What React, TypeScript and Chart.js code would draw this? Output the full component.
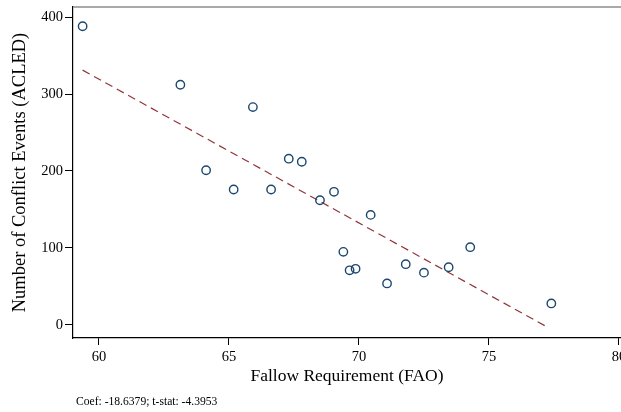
import React, { useEffect, useRef } from "react";
import { Chart, registerables } from "chart.js";

Chart.register(...registerables);

// Data
const fallowRequirement = [59.37, 63.13, 65.92, 64.12, 65.18, 66.62, 67.3, 67.8, 68.5, 69.04, 70.45, 69.4, 69.64, 69.87, 71.08, 71.8, 72.5, 73.45, 74.28, 77.4];
const conflictEvents = [388, 312, 283, 201, 176, 176, 216, 212, 162, 173, 143, 95, 71, 73, 54, 79, 68, 75, 101, 28];
const fitX = [59.37, 77.26];
const fitY = [331, -3];
const xTicks = [60, 65, 70, 75, 80];
const yTicks = [0, 100, 200, 300, 400];
const xTitle = "Fallow Requirement (FAO)";
const yTitle = "Number of Conflict Events (ACLED)";
const note = "Coef: -18.6379; t-stat: -4.3953";

const FONT = "'Liberation Serif', 'Times New Roman', serif";

const topBorder = {
  id: "topBorder",
  afterDraw(chart: any) {
    const { ctx, chartArea } = chart;
    ctx.save();
    ctx.strokeStyle = "#8c8c8c";
    ctx.lineWidth = 1.5;
    ctx.beginPath();
    ctx.moveTo(chartArea.left, chartArea.top);
    ctx.lineTo(chartArea.right, chartArea.top);
    ctx.stroke();
    ctx.restore();
  },
};

export default function App() {
  const canvasRef = useRef<HTMLCanvasElement | null>(null);

  useEffect(() => {
    if (!canvasRef.current) return;
    const points = fallowRequirement.map((x, i) => ({ x, y: conflictEvents[i] }));
    const fit = fitX.map((x, i) => ({ x, y: fitY[i] }));
    const chart = new Chart(canvasRef.current, {
      type: "scatter",
      data: {
        datasets: [
          {
            data: points,
            showLine: false,
            pointStyle: "circle",
            pointRadius: 4.2,
            pointBorderWidth: 1.4,
            pointBorderColor: "#1a476f",
            pointBackgroundColor: "rgba(0,0,0,0)",
          },
          {
            data: fit,
            showLine: true,
            pointRadius: 0,
            borderColor: "#90353b",
            borderWidth: 1.2,
            borderDash: [8, 5],
            fill: false,
          },
        ],
      },
      options: {
        animation: false,
        responsive: true,
        maintainAspectRatio: false,
        layout: { autoPadding: false, padding: { top: 7, left: 0, right: 0, bottom: 0 } },
        plugins: {
          legend: { display: false },
          tooltip: { enabled: false },
        },
        font: { family: FONT },
        scales: {
          x: {
            type: "linear",
            min: 59,
            max: 80.08,
            afterBuildTicks: (s: any) => {
              s.ticks = xTicks.map((v) => ({ value: v }));
            },
            afterFit: (s: any) => {
              s.height = 74;
              s.paddingLeft = 0;
              s.paddingRight = 0;
            },
            grid: { drawOnChartArea: false, drawTicks: true, tickLength: 7, color: "#000" },
            border: { display: true, color: "#000", width: 1.2 },
            ticks: { color: "#000", padding: 3, font: { family: FONT, size: 14.5 } },
            title: {
              display: true,
              text: xTitle,
              color: "#000",
              font: { family: FONT, size: 17.5 },
              padding: { top: 0, bottom: 25 },
            },
          },
          y: {
            type: "linear",
            min: -16.9,
            max: 413,
            afterBuildTicks: (s: any) => {
              s.ticks = yTicks.map((v) => ({ value: v }));
            },
            afterFit: (s: any) => {
              s.width = 73;
              s.paddingTop = 0;
              s.paddingBottom = 0;
            },
            grid: { drawOnChartArea: false, drawTicks: true, tickLength: 8, color: "#000" },
            border: { display: true, color: "#000", width: 1.2 },
            ticks: { color: "#000", padding: 2, font: { family: FONT, size: 14.5 } },
            title: {
              display: true,
              text: yTitle,
              color: "#000",
              font: { family: FONT, size: 18.5 },
              padding: { top: 9, bottom: 0 },
            },
          },
        },
      },
      plugins: [topBorder],
    });
    return () => chart.destroy();
  }, []);

  return (
    <div style={{ position: "fixed", left: 0, top: 0, width: 621, height: 412, background: "#fff", overflow: "hidden" }}>
      <canvas ref={canvasRef} />
      <div
        style={{
          position: "absolute",
          left: 76,
          top: 395,
          fontFamily: FONT,
          fontSize: 11.6,
          lineHeight: "14px",
          color: "#000",
          whiteSpace: "nowrap",
        }}
      >
        {note}
      </div>
    </div>
  );
}
